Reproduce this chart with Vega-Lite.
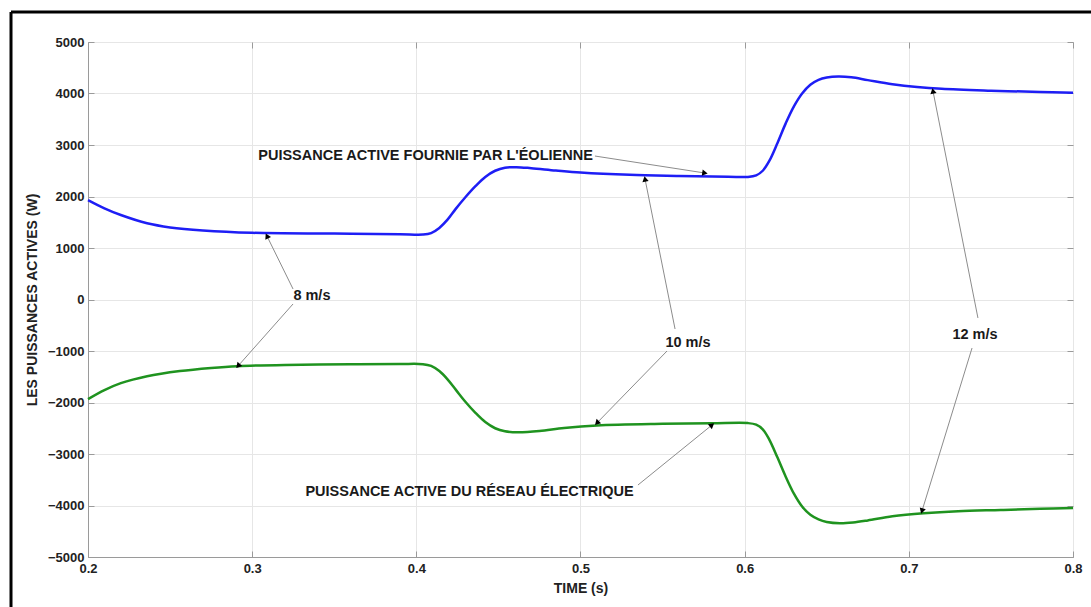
{
  "$schema": "https://vega.github.io/schema/vega-lite/v6.json",
  "width": 985,
  "height": 515,
  "autosize": {"type": "none"},
  "padding": {"left": 88, "top": 42, "right": 18, "bottom": 50},
  "background": "white",
  "config": {
    "view": {"stroke": "#9a9a9a", "strokeWidth": 1},
    "font": "Liberation Sans",
    "axis": {
      "gridColor": "#e6e6e6",
      "gridWidth": 1,
      "domainColor": "#9a9a9a",
      "tickColor": "#9a9a9a",
      "labelFont": "Liberation Sans",
      "labelFontSize": 13,
      "labelFontWeight": "bold",
      "labelColor": "#222222",
      "labelFlush": false,
      "titleFont": "Liberation Sans",
      "titleFontSize": 14,
      "titleFontWeight": "bold",
      "titleColor": "#222222"
    }
  },
  "datasets": {
    "curves": [
      {"t": 0.200, "P": 1930, "serie": "eolienne"},
      {"t": 0.210, "P": 1770, "serie": "eolienne"},
      {"t": 0.220, "P": 1640, "serie": "eolienne"},
      {"t": 0.236, "P": 1480, "serie": "eolienne"},
      {"t": 0.250, "P": 1400, "serie": "eolienne"},
      {"t": 0.270, "P": 1340, "serie": "eolienne"},
      {"t": 0.300, "P": 1295, "serie": "eolienne"},
      {"t": 0.350, "P": 1280, "serie": "eolienne"},
      {"t": 0.390, "P": 1268, "serie": "eolienne"},
      {"t": 0.404, "P": 1262, "serie": "eolienne"},
      {"t": 0.409, "P": 1290, "serie": "eolienne"},
      {"t": 0.414, "P": 1390, "serie": "eolienne"},
      {"t": 0.419, "P": 1550, "serie": "eolienne"},
      {"t": 0.424, "P": 1760, "serie": "eolienne"},
      {"t": 0.430, "P": 1990, "serie": "eolienne"},
      {"t": 0.436, "P": 2200, "serie": "eolienne"},
      {"t": 0.442, "P": 2380, "serie": "eolienne"},
      {"t": 0.448, "P": 2500, "serie": "eolienne"},
      {"t": 0.454, "P": 2560, "serie": "eolienne"},
      {"t": 0.461, "P": 2570, "serie": "eolienne"},
      {"t": 0.470, "P": 2550, "serie": "eolienne"},
      {"t": 0.485, "P": 2505, "serie": "eolienne"},
      {"t": 0.500, "P": 2465, "serie": "eolienne"},
      {"t": 0.530, "P": 2420, "serie": "eolienne"},
      {"t": 0.560, "P": 2400, "serie": "eolienne"},
      {"t": 0.590, "P": 2385, "serie": "eolienne"},
      {"t": 0.602, "P": 2380, "serie": "eolienne"},
      {"t": 0.607, "P": 2410, "serie": "eolienne"},
      {"t": 0.611, "P": 2500, "serie": "eolienne"},
      {"t": 0.615, "P": 2690, "serie": "eolienne"},
      {"t": 0.620, "P": 3040, "serie": "eolienne"},
      {"t": 0.625, "P": 3420, "serie": "eolienne"},
      {"t": 0.630, "P": 3750, "serie": "eolienne"},
      {"t": 0.635, "P": 4000, "serie": "eolienne"},
      {"t": 0.640, "P": 4170, "serie": "eolienne"},
      {"t": 0.645, "P": 4265, "serie": "eolienne"},
      {"t": 0.650, "P": 4310, "serie": "eolienne"},
      {"t": 0.657, "P": 4330, "serie": "eolienne"},
      {"t": 0.665, "P": 4315, "serie": "eolienne"},
      {"t": 0.675, "P": 4260, "serie": "eolienne"},
      {"t": 0.690, "P": 4180, "serie": "eolienne"},
      {"t": 0.705, "P": 4125, "serie": "eolienne"},
      {"t": 0.720, "P": 4090, "serie": "eolienne"},
      {"t": 0.750, "P": 4055, "serie": "eolienne"},
      {"t": 0.780, "P": 4030, "serie": "eolienne"},
      {"t": 0.800, "P": 4015, "serie": "eolienne"},
      {"t": 0.200, "P": -1935, "serie": "reseau"},
      {"t": 0.210, "P": -1760, "serie": "reseau"},
      {"t": 0.220, "P": -1625, "serie": "reseau"},
      {"t": 0.236, "P": -1490, "serie": "reseau"},
      {"t": 0.256, "P": -1390, "serie": "reseau"},
      {"t": 0.275, "P": -1330, "serie": "reseau"},
      {"t": 0.291, "P": -1295, "serie": "reseau"},
      {"t": 0.320, "P": -1270, "serie": "reseau"},
      {"t": 0.360, "P": -1258, "serie": "reseau"},
      {"t": 0.390, "P": -1252, "serie": "reseau"},
      {"t": 0.404, "P": -1255, "serie": "reseau"},
      {"t": 0.409, "P": -1290, "serie": "reseau"},
      {"t": 0.414, "P": -1390, "serie": "reseau"},
      {"t": 0.419, "P": -1550, "serie": "reseau"},
      {"t": 0.424, "P": -1750, "serie": "reseau"},
      {"t": 0.430, "P": -1990, "serie": "reseau"},
      {"t": 0.436, "P": -2200, "serie": "reseau"},
      {"t": 0.442, "P": -2380, "serie": "reseau"},
      {"t": 0.448, "P": -2500, "serie": "reseau"},
      {"t": 0.454, "P": -2560, "serie": "reseau"},
      {"t": 0.462, "P": -2580, "serie": "reseau"},
      {"t": 0.475, "P": -2555, "serie": "reseau"},
      {"t": 0.490, "P": -2495, "serie": "reseau"},
      {"t": 0.510, "P": -2445, "serie": "reseau"},
      {"t": 0.550, "P": -2415, "serie": "reseau"},
      {"t": 0.580, "P": -2405, "serie": "reseau"},
      {"t": 0.602, "P": -2400, "serie": "reseau"},
      {"t": 0.607, "P": -2430, "serie": "reseau"},
      {"t": 0.611, "P": -2520, "serie": "reseau"},
      {"t": 0.615, "P": -2720, "serie": "reseau"},
      {"t": 0.620, "P": -3070, "serie": "reseau"},
      {"t": 0.625, "P": -3440, "serie": "reseau"},
      {"t": 0.630, "P": -3770, "serie": "reseau"},
      {"t": 0.635, "P": -4020, "serie": "reseau"},
      {"t": 0.640, "P": -4180, "serie": "reseau"},
      {"t": 0.645, "P": -4270, "serie": "reseau"},
      {"t": 0.650, "P": -4320, "serie": "reseau"},
      {"t": 0.658, "P": -4345, "serie": "reseau"},
      {"t": 0.666, "P": -4330, "serie": "reseau"},
      {"t": 0.675, "P": -4290, "serie": "reseau"},
      {"t": 0.690, "P": -4210, "serie": "reseau"},
      {"t": 0.709, "P": -4150, "serie": "reseau"},
      {"t": 0.730, "P": -4110, "serie": "reseau"},
      {"t": 0.756, "P": -4087, "serie": "reseau"},
      {"t": 0.780, "P": -4065, "serie": "reseau"},
      {"t": 0.800, "P": -4049, "serie": "reseau"}
    ],
    "arrows": [
      {"label": "8 m/s", "x": 0.3249, "y": 204, "x2": 0.3090, "y2": 1233},
      {"label": "8 m/s", "x": 0.3249, "y": -87, "x2": 0.2914, "y2": -1291},
      {"label": "10 m/s", "x": 0.5576, "y": -573, "x2": 0.5393, "y2": 2340},
      {"label": "10 m/s", "x": 0.5527, "y": -1000, "x2": 0.5100, "y2": -2398},
      {"label": "12 m/s", "x": 0.7421, "y": -359, "x2": 0.7147, "y2": 4049},
      {"label": "12 m/s", "x": 0.7385, "y": -942, "x2": 0.7080, "y2": -4107},
      {"label": "eolienne", "x": 0.5088, "y": 2786, "x2": 0.5758, "y2": 2456},
      {"label": "reseau", "x": 0.5350, "y": -3602, "x2": 0.5801, "y2": -2437}
    ],
    "labels": [
      {"text": "8 m/s", "x": 0.3364, "y": 68},
      {"text": "10 m/s", "x": 0.5655, "y": -845},
      {"text": "12 m/s", "x": 0.7403, "y": -689},
      {"text": "PUISSANCE ACTIVE FOURNIE PAR L'ÉOLIENNE", "x": 0.4056, "y": 2786},
      {"text": "PUISSANCE ACTIVE DU RÉSEAU ÉLECTRIQUE", "x": 0.4324, "y": -3738}
    ]
  },
  "resolve": {"axis": {"x": "independent", "y": "independent"}},
  "layer": [
    {
      "data": {"name": "curves"},
      "mark": {"type": "line", "strokeWidth": 2.5, "interpolate": "catmull-rom"},
      "encoding": {
        "x": {
          "field": "t", "type": "quantitative",
          "scale": {"domain": [0.2, 0.8], "nice": false, "zero": false},
          "axis": {
            "title": "TIME (s)", "values": [0.2, 0.3, 0.4, 0.5, 0.6, 0.7, 0.8],
            "format": ".1f", "grid": true, "tickSize": -6, "labelPadding": 11,
            "titlePadding": 6
          }
        },
        "y": {
          "field": "P", "type": "quantitative",
          "scale": {"domain": [-5000, 5000], "nice": false, "zero": false},
          "axis": {
            "title": "LES PUISSANCES ACTIVES (W)",
            "values": [-5000, -4000, -3000, -2000, -1000, 0, 1000, 2000, 3000, 4000, 5000],
            "format": "d", "grid": true, "tickSize": -6, "labelPadding": 10,
            "titlePadding": 8
          }
        },
        "color": {
          "field": "serie", "type": "nominal",
          "scale": {"domain": ["eolienne", "reseau"], "range": ["#1e1ef5", "#1f931f"]},
          "legend": null
        },
        "detail": {"field": "serie"}
      }
    },
    {
      "data": {"name": "arrows"},
      "mark": {"type": "rule", "color": "#8c8c8c", "strokeWidth": 1},
      "encoding": {
        "x": {"field": "x", "type": "quantitative", "scale": {"domain": [0.2, 0.8], "nice": false, "zero": false},
          "axis": {"orient": "top", "labels": false, "domain": false, "grid": false, "title": null, "tickSize": -6,
            "values": [0.2, 0.3, 0.4, 0.5, 0.6, 0.7, 0.8]}},
        "y": {"field": "y", "type": "quantitative", "scale": {"domain": [-5000, 5000], "nice": false, "zero": false},
          "axis": {"orient": "right", "labels": false, "domain": false, "grid": false, "title": null, "tickSize": -6,
            "values": [-5000, -4000, -3000, -2000, -1000, 0, 1000, 2000, 3000, 4000, 5000]}},
        "x2": {"field": "x2"},
        "y2": {"field": "y2"}
      }
    },
    {
      "data": {"name": "arrows"},
      "transform": [
        {"calculate": "atan2((datum.x2 - datum.x) * 1641.7, (datum.y2 - datum.y) * 0.0515) * 180 / PI", "as": "angle"}
      ],
      "mark": {"type": "point", "shape": "triangle-up", "filled": true, "color": "black", "opacity": 1, "size": 40},
      "encoding": {
        "x": {"field": "x2", "type": "quantitative", "scale": {"domain": [0.2, 0.8], "nice": false, "zero": false}, "axis": null},
        "y": {"field": "y2", "type": "quantitative", "scale": {"domain": [-5000, 5000], "nice": false, "zero": false}, "axis": null},
        "angle": {"field": "angle", "type": "quantitative", "scale": null}
      }
    },
    {
      "data": {"name": "labels"},
      "mark": {"type": "text", "font": "Liberation Sans", "fontSize": 14.5, "fontWeight": "bold", "color": "#1a1a1a", "align": "center", "baseline": "middle"},
      "encoding": {
        "x": {"field": "x", "type": "quantitative", "scale": {"domain": [0.2, 0.8], "nice": false, "zero": false}, "axis": null},
        "y": {"field": "y", "type": "quantitative", "scale": {"domain": [-5000, 5000], "nice": false, "zero": false}, "axis": null},
        "text": {"field": "text"}
      }
    },
    {
      "data": {"values": [{}]},
      "mark": {"type": "rule", "color": "black", "strokeWidth": 3, "clip": false},
      "encoding": {
        "x": {"datum": 0.1531, "type": "quantitative", "scale": {"domain": [0.2, 0.8], "nice": false, "zero": false}, "axis": null},
        "y": {"datum": 5583, "type": "quantitative", "scale": {"domain": [-5000, 5000], "nice": false, "zero": false}, "axis": null},
        "y2": {"datum": -6000}
      }
    },
    {
      "data": {"values": [{}]},
      "mark": {"type": "rule", "color": "black", "strokeWidth": 3, "clip": false},
      "encoding": {
        "x": {"datum": 0.1531, "type": "quantitative", "scale": {"domain": [0.2, 0.8], "nice": false, "zero": false}, "axis": null},
        "x2": {"datum": 0.82},
        "y": {"datum": 5583, "type": "quantitative", "scale": {"domain": [-5000, 5000], "nice": false, "zero": false}, "axis": null}
      }
    }
  ]
}
